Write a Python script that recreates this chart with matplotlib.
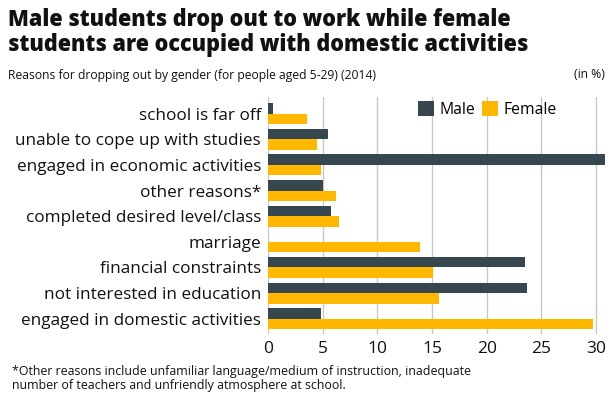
import matplotlib
matplotlib.use("Agg")
import matplotlib.pyplot as plt
import numpy as np

categories = ["school is far off", "unable to cope up with studies",
              "engaged in economic activities", "other reasons*",
              "completed desired level/class", "marriage",
              "financial constraints", "not interested in education",
              "engaged in domestic activities"]
male = [0.5, 5.5, 30.8, 5.0, 5.8, 0.0, 23.5, 23.7, 4.8]
female = [3.6, 4.5, 4.8, 6.2, 6.5, 13.9, 15.1, 15.6, 29.7]
xticks = [0, 5, 10, 15, 20, 25, 30]

plt.rcParams['font.family'] = ['Open Sans', 'DejaVu Sans']

fig = plt.figure(figsize=(6.14, 4.09), dpi=100)
ax = fig.add_axes([268/614, 1-334/409, (606-268)/614, (334-97)/409])

y = np.arange(len(categories))
h = 0.41
ax.barh(y - h/2, male, height=h, color="#37474f", label="Male", zorder=3)
ax.barh(y + h/2, female, height=h, color="#ffb700", label="Female", zorder=3)

ax.set_yticks(y)
ax.set_yticklabels(categories, fontsize=12.3, color="#111111")
ax.set_ylim(len(categories) - 0.4, -0.65)
ax.set_xlim(0, 30.9)
ax.set_xticks(xticks)
ax.set_xticklabels([str(t) for t in xticks], fontsize=12.5, color="#111111")
ax.tick_params(length=0, pad=5)
ax.tick_params(axis='y', pad=5)
ax.grid(axis='x', color="#c8c8c8", linewidth=1, zorder=0)
for s in ax.spines.values():
    s.set_visible(False)

leg = ax.legend(loc="upper left", bbox_to_anchor=(0.422, 1.015), ncol=2, frameon=False,
                fontsize=11.3, handlelength=1.0, handleheight=1.1, columnspacing=0.45,
                handletextpad=0.35, borderaxespad=0.1)

fig.text(8/614, 1-8/409, "Male students drop out to work while female\nstudents are occupied with domestic activities",
         fontsize=15.6, fontweight='heavy', va='top', ha='left', linespacing=1.08, color="#111111")
fig.text(8/614, 1-75/409, "Reasons for dropping out by gender (for people aged 5-29) (2014)",
         fontsize=8.7, va='center', ha='left', color="#111111")
fig.text(605/614, 1-75/409, "(in %)", fontsize=8.7, va='center', ha='right', color="#111111")
fig.text(12/614, 1-379/409,
         "*Other reasons include unfamiliar language/medium of instruction, inadequate\nnumber of teachers and unfriendly atmosphere at school.",
         fontsize=8.9, va='center', ha='left', linespacing=1.1, color="#111111")

fig.savefig("out.png", dpi=100)
